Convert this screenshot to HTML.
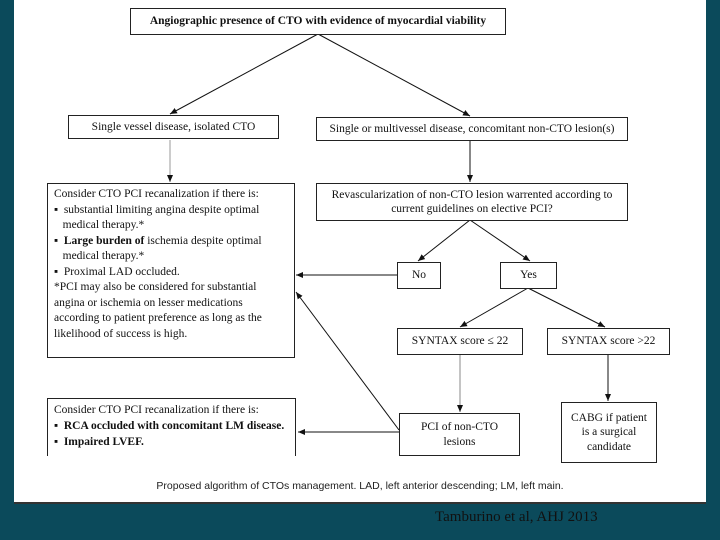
<!DOCTYPE html>
<html><head><style>
body{margin:0;width:720px;height:540px;background:#0b4a5b;position:relative;overflow:hidden;font-family:"Liberation Serif",serif;}
#w{position:absolute;left:14px;top:0;width:692px;height:502px;background:#fff;border-bottom:2px solid #333;}
.b{position:absolute;border:1.5px solid #222;background:#fff;box-sizing:border-box;font-size:11.5px;color:#111;display:flex;align-items:center;justify-content:center;text-align:center;line-height:1.25;}
.l{display:block;text-align:left;padding:3px 6px;font-size:11.5px;line-height:16px}
svg{position:absolute;left:0;top:0}
</style></head><body>
<div id="w"></div>
<svg width="720" height="540">
<defs><marker id="a" markerWidth="8" markerHeight="8" refX="7" refY="4" orient="auto"><path d="M0,1 L7,4 L0,7z" fill="#111"/></marker></defs>
<g stroke="#111" stroke-width="1" fill="none" marker-end="url(#a)">
<line x1="318" y1="34" x2="170" y2="114"/>
<line x1="318" y1="34" x2="470" y2="116"/>
<line x1="170" y1="140" x2="170" y2="182" stroke="#999"/>
<line x1="470" y1="140" x2="470" y2="182"/>
<line x1="470" y1="220" x2="418" y2="261"/>
<line x1="470" y1="220" x2="530" y2="261"/>
<line x1="397" y1="275" x2="296" y2="275"/>
<line x1="528" y1="288" x2="460" y2="327"/>
<line x1="528" y1="288" x2="605" y2="327"/>
<line x1="460" y1="355" x2="460" y2="412" stroke="#888"/>
<line x1="608" y1="355" x2="608" y2="401"/>
<line x1="399" y1="432" x2="298" y2="432"/>
<line x1="399" y1="430" x2="296" y2="292"/>
</g></svg>
<div class="b" style="left:130px;top:8px;width:376px;height:27px;font-weight:bold">Angiographic presence of CTO with evidence of myocardial viability</div>
<div class="b" style="left:68px;top:115px;width:211px;height:24px">Single vessel disease, isolated CTO</div>
<div class="b" style="left:316px;top:117px;width:312px;height:24px">Single or multivessel disease, concomitant non-CTO lesion(s)</div>
<div class="b l" style="left:47px;top:183px;width:248px;height:175px;line-height:15.5px">Consider CTO PCI recanalization if there is:<br>▪ &nbsp;substantial limiting angina despite optimal<br>&nbsp;&nbsp;&nbsp;medical therapy.*<br>▪ &nbsp;<b>Large burden of</b> ischemia despite optimal<br>&nbsp;&nbsp;&nbsp;medical therapy.*<br>▪ &nbsp;Proximal LAD occluded.<br>*PCI may also be considered for substantial<br>angina or ischemia on lesser medications<br>according to patient preference as long as the<br>likelihood of success is high.</div>
<div class="b" style="left:316px;top:183px;width:312px;height:38px">Revascularization of non-CTO lesion warrented according to<br>current guidelines on elective PCI?</div>
<div class="b" style="left:397px;top:262px;width:44px;height:27px">No</div>
<div class="b" style="left:500px;top:262px;width:57px;height:27px">Yes</div>
<div class="b" style="left:397px;top:328px;width:126px;height:27px">SYNTAX score ≤ 22</div>
<div class="b" style="left:547px;top:328px;width:123px;height:27px">SYNTAX score &gt;22</div>
<div class="b l" style="left:47px;top:398px;width:249px;height:58px;border-bottom:none;line-height:16px">Consider CTO PCI recanalization if there is:<br>▪ &nbsp;<b>RCA occluded with concomitant LM disease.</b><br>▪ &nbsp;<b>Impaired LVEF.</b></div>
<div class="b" style="left:399px;top:413px;width:121px;height:43px">PCI of non-CTO<br>lesions</div>
<div class="b" style="left:561px;top:402px;width:96px;height:61px">CABG if patient<br>is a surgical<br>candidate</div>
<div style="position:absolute;left:14px;width:692px;top:480px;text-align:center;font-family:'Liberation Sans',sans-serif;font-size:10.5px;color:#222">Proposed algorithm of CTOs management. LAD, left anterior descending; LM, left main.</div>
<div style="position:absolute;left:435px;top:509px;font-size:15px;color:#111">Tamburino et al, AHJ 2013</div>
</body></html>
